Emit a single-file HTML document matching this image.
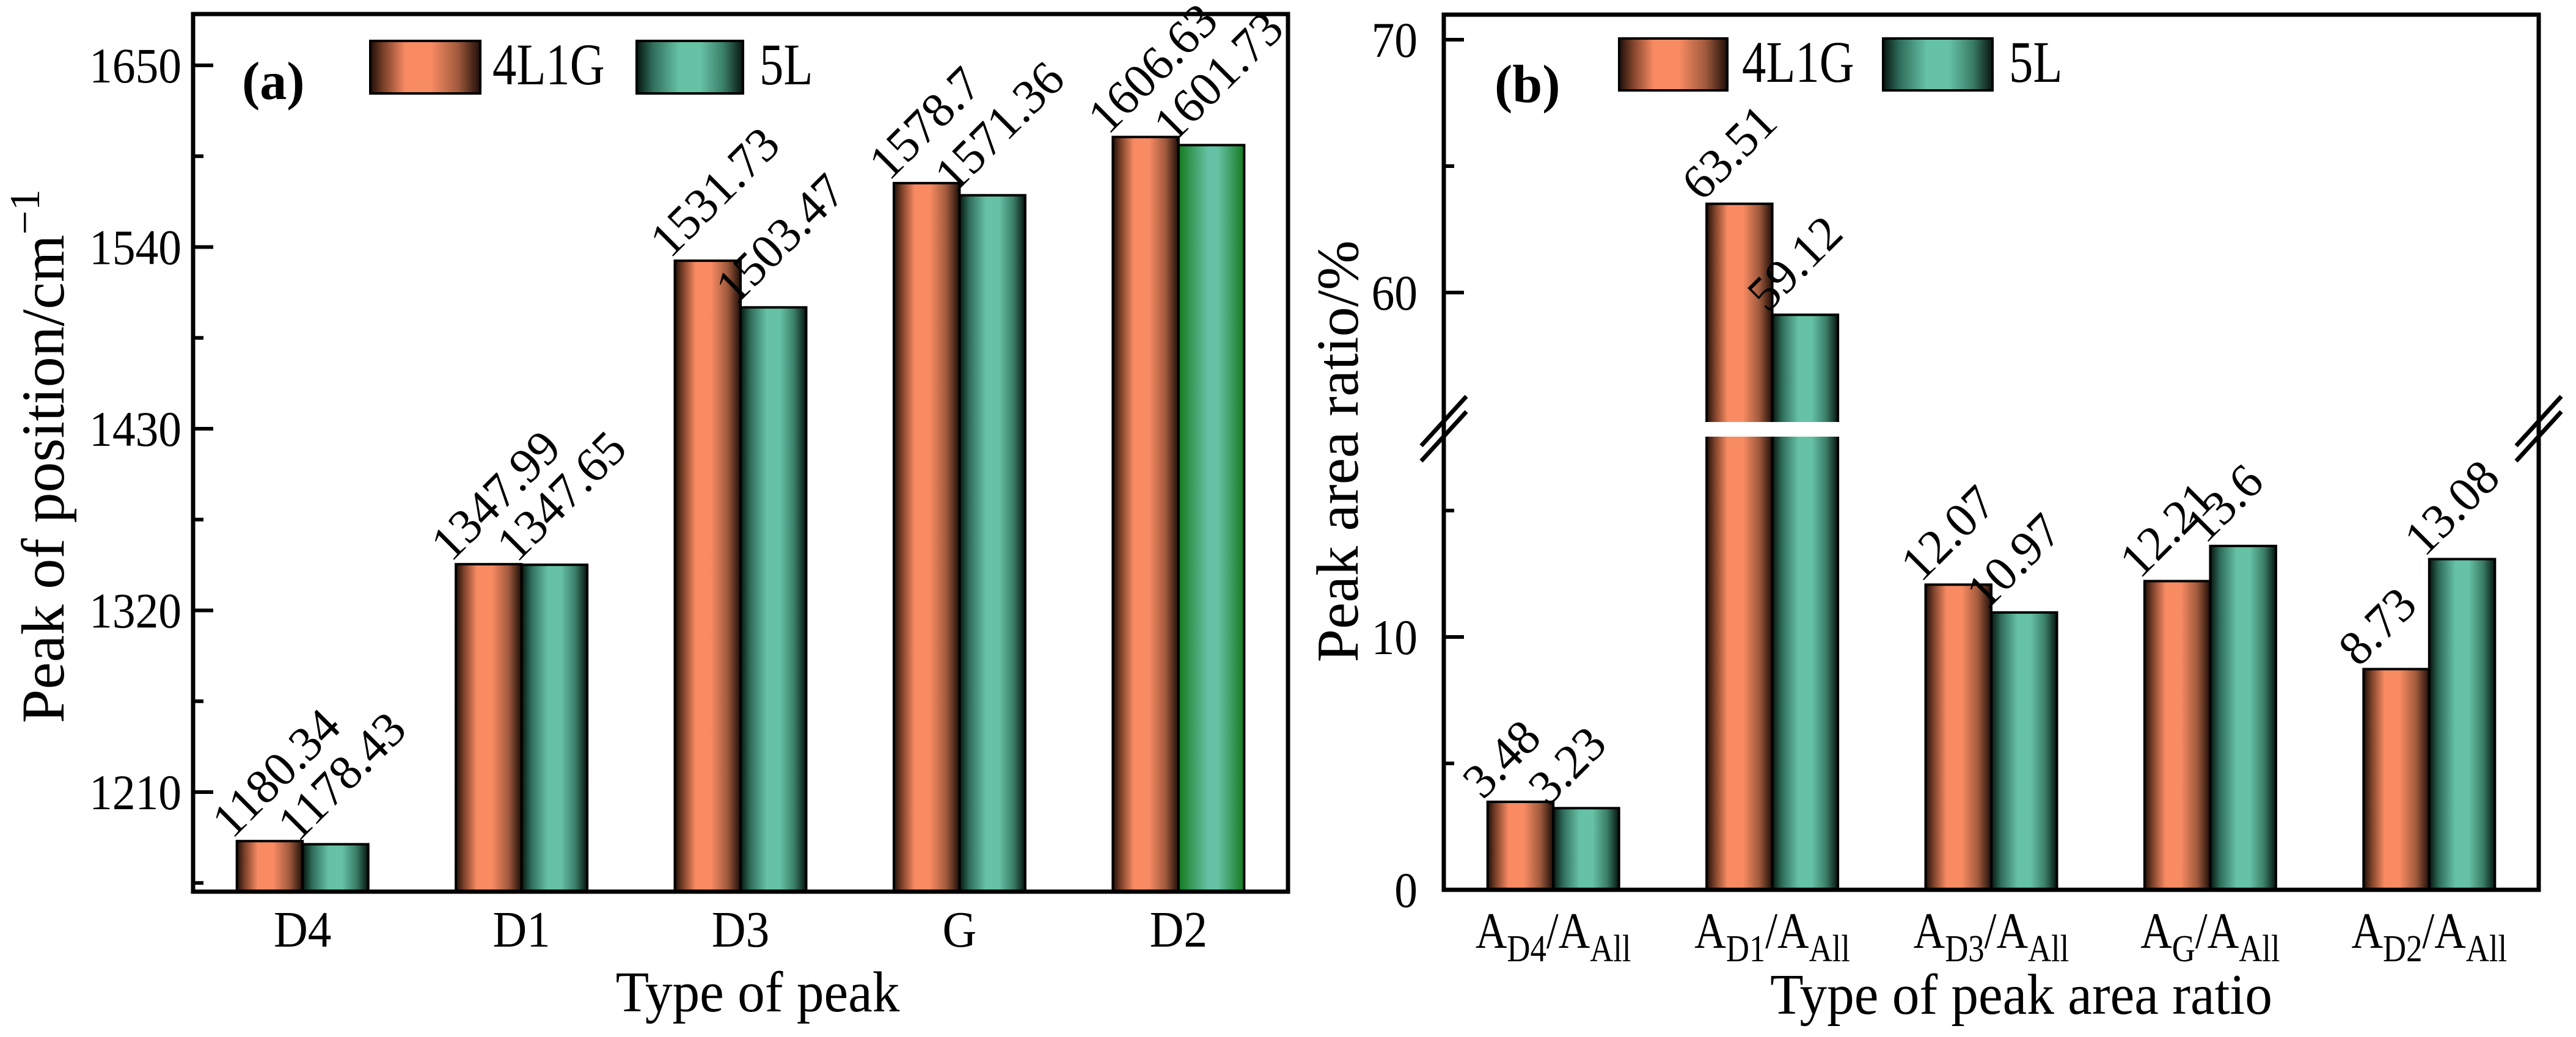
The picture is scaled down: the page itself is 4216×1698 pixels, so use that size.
<!DOCTYPE html>
<html><head><meta charset="utf-8"><style>
html,body{margin:0;padding:0;background:#fff;}
svg{display:block;}
text{font-family:"Liberation Serif",serif;fill:#000;}
</style></head><body>
<svg id="chart" width="4216" height="1698" viewBox="0 0 4216 1698" xmlns="http://www.w3.org/2000/svg">
<defs>
<linearGradient id="gO" x1="0" x2="1" y1="0" y2="0">
<stop offset="0" stop-color="#1e0e08"/><stop offset="0.12" stop-color="#7a4029"/><stop offset="0.32" stop-color="#f98b63"/><stop offset="0.55" stop-color="#f98b63"/><stop offset="0.8" stop-color="#a05a3d"/><stop offset="1" stop-color="#1e0e08"/>
</linearGradient>
<linearGradient id="gG" x1="0" x2="1" y1="0" y2="0">
<stop offset="0" stop-color="#06140f"/><stop offset="0.15" stop-color="#2f6d5a"/><stop offset="0.4" stop-color="#66c2a5"/><stop offset="0.6" stop-color="#66c2a5"/><stop offset="0.82" stop-color="#3a7d67"/><stop offset="1" stop-color="#06140f"/>
</linearGradient>
<linearGradient id="gG2" x1="0" x2="1" y1="0" y2="0">
<stop offset="0" stop-color="#137a1e"/><stop offset="0.45" stop-color="#66c2a5"/><stop offset="0.6" stop-color="#66c2a5"/><stop offset="1" stop-color="#137a1e"/>
</linearGradient>
</defs>
<g id="pa"></g>
<g id="pb"></g>
</svg>
<script>
const catsA = ["D4","D1","D3","G","D2"];
const valsA4L1G = [1180.34,1347.99,1531.73,1578.7,1606.63];
const valsA5L = [1178.43,1347.65,1503.47,1571.36,1601.73];
const ticksA = [1210,1320,1430,1540,1650];
const minorA = [1155,1265,1375,1485,1595];
const catsB = ["D4","D1","D3","G","D2"];
const valsB4L1G = [3.48,63.51,12.07,12.21,8.73];
const valsB5L = [3.23,59.12,10.97,13.6,13.08];
const ticksBLow = [0,10];
const minorBLow = [5,15];
const ticksBHigh = [60,70];
const minorBHigh = [65];

const NS="http://www.w3.org/2000/svg";
function mk(parent,tag,attrs,txt){const e=document.createElementNS(NS,tag);for(const k in attrs)e.setAttribute(k,attrs[k]);if(txt!==undefined)e.textContent=txt;parent.appendChild(e);return e;}
const LF=80, LR=-45, LDX=-8;

// ---------- Panel A ----------
const pa=document.getElementById('pa');
const aL=316,aR=2108,aT=23,aB=1460;
const yA=v=>1297-(v-1210)*2.7045;
const xA=i=>aL+(i+0.5)*(aR-aL)/5;
const bw=107.5;
catsA.forEach((c,i)=>{
  const xc=xA(i);
  const t1=yA(valsA4L1G[i]);
  let r=mk(pa,'rect',{x:xc-bw,y:t1,width:bw,height:aB-t1,fill:'url(#gO)',stroke:'#000','stroke-width':4});
  
  
  const t2=yA(valsA5L[i]);
  r=mk(pa,'rect',{x:xc,y:t2,width:bw,height:aB-t2,fill:(i===4?'url(#gG2)':'url(#gG)'),stroke:'#000','stroke-width':4});
  
  
  let l=mk(pa,'text',{x:0,y:0,'font-size':LF,transform:`translate(${xc-bw+LDX},${t1-2}) rotate(${LR})`},String(valsA4L1G[i]));
  
  
  l=mk(pa,'text',{x:0,y:0,'font-size':LF,transform:`translate(${xc+LDX},${t2-2}) rotate(${LR})`},String(valsA5L[i]));
  
  
  const tl=mk(pa,'text',{x:0,y:0,'font-size':84,'text-anchor':'middle',transform:`translate(${xc},1550) scale(0.92,1)`},c);
  
  
});
ticksA.forEach(v=>{
  const y=yA(v);
  let t=mk(pa,'line',{x1:aL,x2:aL+33,y1:y,y2:y,stroke:'#000','stroke-width':6});
  
  
  t=mk(pa,'text',{x:0,y:0,'font-size':82,'text-anchor':'end',transform:`translate(297,${y+28}) scale(0.92,1)`},String(v));
  
  
});
minorA.forEach(v=>{
  const t=mk(pa,'line',{x1:aL,x2:aL+17,y1:yA(v),y2:yA(v),stroke:'#000','stroke-width':6});
  
  
});
let fa=mk(pa,'rect',{x:aL,y:aT,width:aR-aL,height:aB-aT,fill:'none',stroke:'#000','stroke-width':7});


let e;
e=mk(pa,'text',{x:396,y:162,'font-size':88,'font-weight':'bold'},'(a)');


e=mk(pa,'rect',{x:606,y:67,width:180,height:86,fill:'url(#gO)',stroke:'#000','stroke-width':4});


e=mk(pa,'text',{x:0,y:0,'font-size':96,transform:'translate(806,138) scale(0.82,1)'},'4L1G');


e=mk(pa,'rect',{x:1042,y:67,width:174,height:86,fill:'url(#gG)',stroke:'#000','stroke-width':4});


e=mk(pa,'text',{x:0,y:0,'font-size':96,transform:'translate(1243,138) scale(0.82,1)'},'5L');


e=mk(pa,'text',{x:0,y:0,'font-size':94,'text-anchor':'middle',transform:'translate(1240,1656) scale(0.95,1)'},'Type of peak');


e=mk(pa,'text',{x:0,y:0,'font-size':100,'text-anchor':'middle',transform:'translate(104,747) rotate(-90)'});


mk(e,'tspan',{},'Peak of position/cm');
mk(e,'tspan',{dy:-40,'font-size':70},'\u2212');
mk(e,'tspan',{'font-size':70},'1');

// ---------- Panel B ----------
const pb=document.getElementById('pb');
const bL=2363,bR=4155,bT=24,bB=1457;
const gapTop=691,gapBot=715;
const yB=v=>v<=30?1457-v*41.4:479-(v-60)*41.4;
const xB=i=>bL+(i+0.5)*(bR-bL)/5;
catsB.forEach((c,i)=>{
  const xc=xB(i);
  const t1=yB(valsB4L1G[i]);
  let r=mk(pb,'rect',{x:xc-bw,y:t1,width:bw,height:bB-t1,fill:'url(#gO)',stroke:'#000','stroke-width':4});
  
  
  const t2=yB(valsB5L[i]);
  r=mk(pb,'rect',{x:xc,y:t2,width:bw,height:bB-t2,fill:'url(#gG)',stroke:'#000','stroke-width':4});
  
  
  if(valsB4L1G[i]>30||valsB5L[i]>30){
    const g=mk(pb,'rect',{x:xc-bw-4,y:gapTop,width:2*bw+8,height:gapBot-gapTop,fill:'#fff'});
    
    
  }
  let l=mk(pb,'text',{x:0,y:0,'font-size':LF,transform:`translate(${xc-bw+LDX},${t1-2}) rotate(${LR})`},String(valsB4L1G[i]));
  
  
  l=mk(pb,'text',{x:0,y:0,'font-size':LF,transform:`translate(${xc+LDX},${t2-2}) rotate(${LR})`},String(valsB5L[i]));
  
  
  const tl=mk(pb,'text',{x:0,y:0,'font-size':84,'text-anchor':'middle',transform:`translate(${xc},1552) scale(0.85,1)`});
  
  
  mk(tl,'tspan',{},'A');
  mk(tl,'tspan',{'font-size':62,dy:22},c);
  mk(tl,'tspan',{dy:-22},'/A');
  mk(tl,'tspan',{'font-size':62,dy:22},'All');
});
[...ticksBLow,...ticksBHigh].forEach(v=>{
  const y=yB(v);
  let t=mk(pb,'line',{x1:bL,x2:bL+33,y1:y,y2:y,stroke:'#000','stroke-width':6});
  
  
  t=mk(pb,'text',{x:0,y:0,'font-size':82,'text-anchor':'end',transform:`translate(2320,${y+28}) scale(0.92,1)`},String(v));
  
  
});
[...minorBLow,...minorBHigh].forEach(v=>{
  const t=mk(pb,'line',{x1:bL,x2:bL+17,y1:yB(v),y2:yB(v),stroke:'#000','stroke-width':6});
  
  
});
let fb=mk(pb,'rect',{x:bL,y:bT,width:bR-bL,height:bB-bT,fill:'none',stroke:'#000','stroke-width':7});


[bL,bR].forEach((x,k)=>{
  [0,25].forEach(d=>{
    const s=mk(pb,'line',{x1:x-37,y1:730+d,x2:x+37,y2:649+d,stroke:'#000','stroke-width':7});
    
    
  });
});
e=mk(pb,'text',{x:2446,y:167,'font-size':88,'font-weight':'bold'},'(b)');


e=mk(pb,'rect',{x:2650,y:63,width:177,height:85,fill:'url(#gO)',stroke:'#000','stroke-width':4});


e=mk(pb,'text',{x:0,y:0,'font-size':96,transform:'translate(2851,134) scale(0.82,1)'},'4L1G');


e=mk(pb,'rect',{x:3082,y:63,width:179,height:85,fill:'url(#gG)',stroke:'#000','stroke-width':4});


e=mk(pb,'text',{x:0,y:0,'font-size':96,transform:'translate(3288,134) scale(0.82,1)'},'5L');


e=mk(pb,'text',{x:0,y:0,'font-size':94,'text-anchor':'middle',transform:'translate(3308,1660) scale(0.95,1)'},'Type of peak area ratio');


e=mk(pb,'text',{x:0,y:0,'font-size':98,'text-anchor':'middle',transform:'translate(2222,739) rotate(-90)'},'Peak area ratio/%');


</script>
</body></html>
